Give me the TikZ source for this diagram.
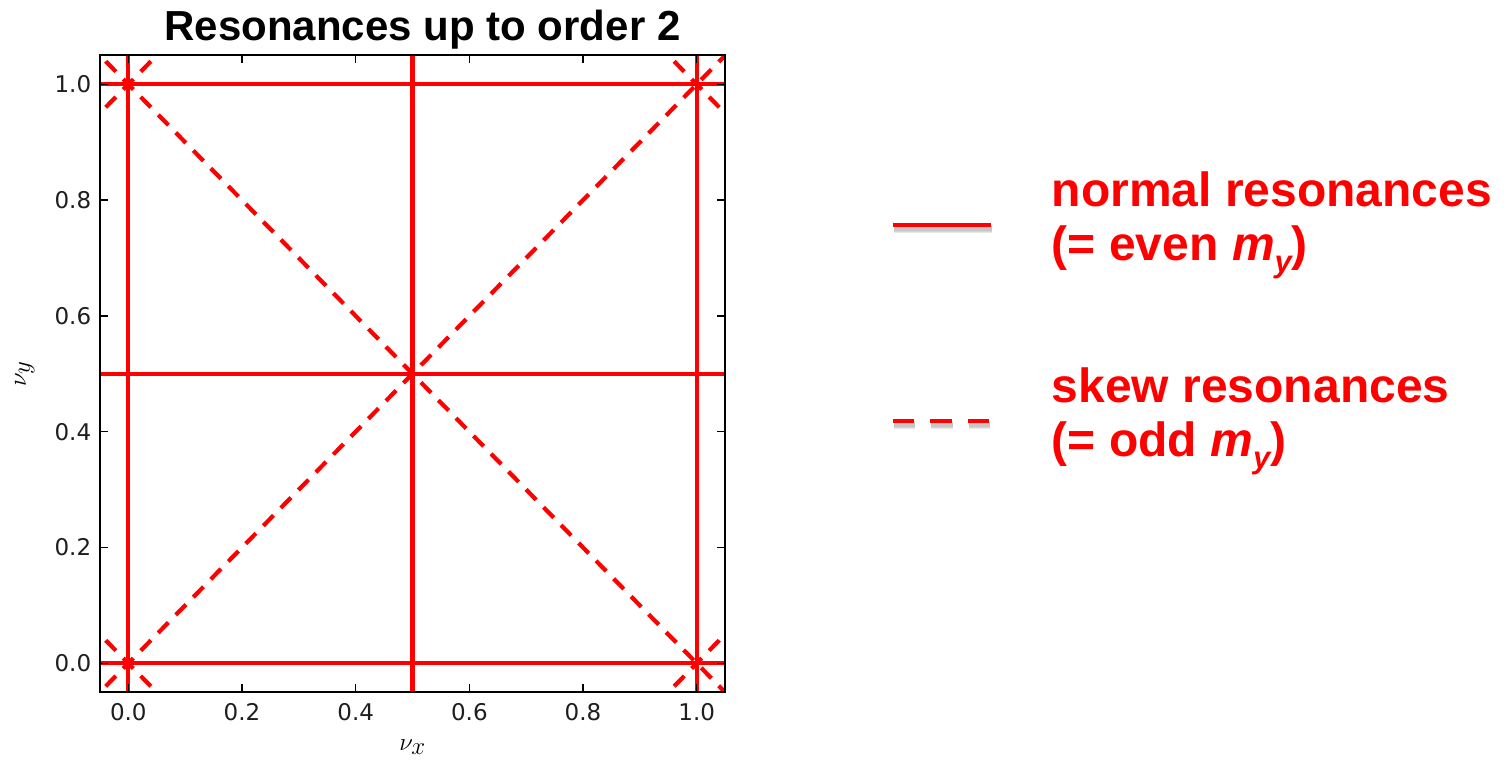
\documentclass[tikz,border=0pt]{standalone}
\usepackage{fontspec}
\setmainfont{Liberation Sans}
\newfontfamily\dejavu{DejaVu Sans}
\definecolor{pred}{RGB}{255,0,0}
\definecolor{ticklab}{RGB}{30,30,30}
\tikzset{
  normalres/.style={draw=pred, line width=4.2pt},
  skewres/.style={draw=pred, line width=4.2pt, dash pattern=on 14.5pt off 10.5pt, dash phase=7.25pt},
  frameline/.style={draw=black, line width=2pt},
  tickmark/.style={draw=black, line width=1.3pt},
  ticklabel/.style={inner sep=0pt, text=ticklab, font=\dejavu\fontsize{23}{23}\selectfont},
  legtext/.style={inner sep=0pt, anchor=base west, text=pred, font=\bfseries\fontsize{48}{54}\selectfont},
  legshadow/.style={draw=black!50, opacity=0.18, line width=#1},
  legshadow/.default=6pt
}
\newcommand{\mysub}[1]{\raisebox{-12pt}{\fontsize{31}{31}\selectfont\bfseries\itshape #1}}
\begin{document}
\begin{tikzpicture}[x=1pt,y=-1pt]
\useasboundingbox (0,0) rectangle (1504,763);
% title
\node[inner sep=0pt, anchor=base, font=\bfseries\fontsize{42}{48}\selectfont] (title) at (422.5,40.7) {Resonances up to order 2};
% plot
\begin{scope}[shift={(128.3pt,-663.3pt)}, x={(568.4pt,0pt)}, y={(0pt,579pt)}]
  \begin{scope}
    \clip (-0.05,-0.05) rectangle (1.05,1.05);
    % normal resonances
    \foreach \c in {0,0.5,1} {
      \draw[normalres] (\c,-0.1) -- (\c,1.1);
      \draw[normalres] (-0.1,\c) -- (1.1,\c);
    }
    % skew resonances
    \draw[skewres] (0,0) -- (1.06,1.06);
    \draw[skewres] (0,0) -- (-0.06,-0.06);
    \draw[skewres] (0,1) -- (1.06,-0.06);
    \draw[skewres] (0,1) -- (-0.06,1.06);
    \draw[skewres] (0,1) -- (-0.06,0.94);
    \draw[skewres] (0,1) -- (0.06,1.06);
    \draw[skewres] (1,0) -- (1.06,0.06);
    \draw[skewres] (1,0) -- (0.94,-0.06);
    \draw[skewres] (0,0) -- (-0.06,0.06);
    \draw[skewres] (0,0) -- (0.06,-0.06);
    \draw[skewres] (1,1) -- (0.94,1.06);
    \draw[skewres] (1,1) -- (1.06,0.94);
  \end{scope}
  \draw[frameline] (-0.05,-0.05) rectangle (1.05,1.05);
  \foreach \v [count=\i] in {0.0,0.2,0.4,0.6,0.8,1.0} {
    \draw[tickmark] (\v,-0.05) -- ++(0pt,8pt);
    \draw[tickmark] (\v,1.05) -- ++(0pt,-8pt);
    \draw[tickmark] (-0.05,\v) -- ++(8pt,0pt);
    \draw[tickmark] (1.05,\v) -- ++(-8pt,0pt);
    \node[ticklabel, anchor=north, yshift=-10.5pt] (xl\i) at (\v,-0.05) {\v};
    \node[ticklabel, anchor=east, xshift=-8.5pt] (yl\i) at (-0.05,\v) {\v};
  }
  \node[inner sep=0pt, font=\fontsize{33}{33}\selectfont] (xlab) at (0.5,-0.1445) {$\nu_x$};
  \node[inner sep=0pt, rotate=90, font=\fontsize{33}{33}\selectfont] (ylab) at (-0.182,0.5) {$\nu_y$};
\end{scope}
% legend
\coordinate (ns) at (892.7,225);
\coordinate (ne) at (990.7,225);
\foreach \w in {8pt,6pt,4pt}
  \draw[legshadow=\w] ([shift={(1pt,-4pt)}]ns) -- ([shift={(1pt,-4pt)}]ne);
\draw[normalres] (ns) -- (ne);
\node[legtext] (n1) at (1051.7,206) {normal resonances};
\node[legtext] (n2) at (1051.7,260) {(= even \textit{m}\mysub{y})};
\coordinate (ss) at (892.7,420.7);
\coordinate (se) at (989,420.7);
\foreach \w in {8pt,6pt,4pt}
  \draw[legshadow=\w, dash pattern=on 21.5pt off 16pt] ([shift={(1pt,-4pt)}]ss) -- ([shift={(1pt,-4pt)}]se);
\draw[draw=pred, line width=4.2pt, dash pattern=on 21.5pt off 16pt] (ss) -- (se);
\node[legtext] (s1) at (1051.7,402.7) {skew resonances};
\node[legtext] (s2) at (1051.7,456.7) {(= odd \textit{m}\mysub{y})};
\end{tikzpicture}
\end{document}
